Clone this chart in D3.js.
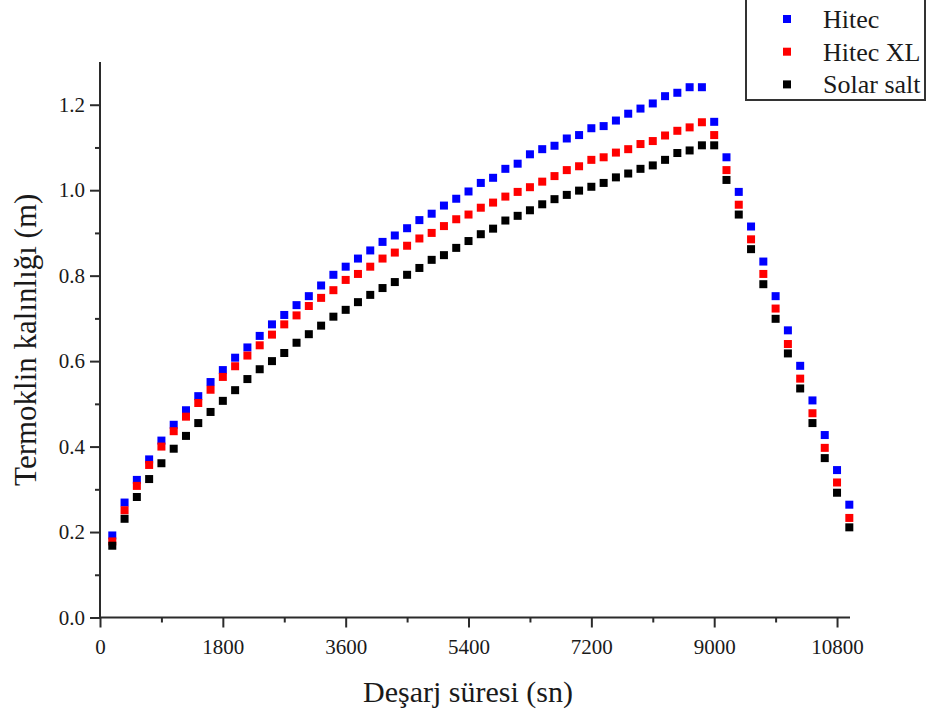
<!DOCTYPE html>
<html>
<head>
<meta charset="utf-8">
<script src="https://cdn.jsdelivr.net/npm/d3@7"></script>
<style>
  html, body { margin: 0; padding: 0; background: #fff; }
  svg { display: block; }
  text { font-family: "Liberation Serif", "Times New Roman", serif; fill: #1a1a1a; }
</style>
</head>
<body>
<svg id="chart" width="931" height="719"></svg>
<script>
// ---- data ----
const times = [180,360,540,720,900,1080,1260,1440,1620,1800,1980,2160,2340,2520,2700,2880,3060,3240,3420,3600,
  3780,3960,4140,4320,4500,4680,4860,5040,5220,5400,5580,5760,5940,6120,6300,6480,6660,6840,7020,7200,
  7380,7560,7740,7920,8100,8280,8460,8640,8820,9000,9180,9360,9540,9720,9900,10080,10260,10440,10620,10800,10980];

const hitec = [0.192,0.269,0.322,0.370,0.414,0.451,0.485,0.518,0.551,0.579,0.608,0.632,0.659,0.686,0.708,0.731,0.752,0.777,0.802,0.821,
  0.840,0.859,0.879,0.894,0.911,0.930,0.945,0.964,0.980,0.997,1.017,1.029,1.050,1.062,1.084,1.096,1.104,1.121,1.129,1.145,
  1.150,1.163,1.179,1.191,1.203,1.220,1.228,1.241,1.241,1.160,1.077,0.996,0.915,0.833,0.752,0.672,0.589,0.508,0.427,0.345,0.264];

const hitecXL = [0.178,0.251,0.308,0.357,0.400,0.436,0.470,0.502,0.533,0.563,0.588,0.613,0.637,0.662,0.686,0.707,0.729,0.748,0.766,0.790,
  0.804,0.821,0.840,0.854,0.870,0.887,0.900,0.916,0.932,0.943,0.959,0.971,0.985,0.996,1.007,1.020,1.033,1.047,1.056,1.071,
  1.077,1.088,1.096,1.108,1.115,1.128,1.139,1.147,1.159,1.129,1.047,0.966,0.885,0.804,0.723,0.640,0.559,0.478,0.397,0.316,0.233];

const solarSalt = [0.168,0.231,0.282,0.324,0.361,0.395,0.425,0.455,0.481,0.507,0.532,0.558,0.581,0.600,0.619,0.643,0.663,0.683,0.704,0.720,
  0.738,0.755,0.771,0.785,0.802,0.818,0.837,0.848,0.865,0.881,0.897,0.910,0.929,0.940,0.953,0.967,0.979,0.989,0.999,1.008,
  1.017,1.030,1.039,1.050,1.058,1.071,1.087,1.093,1.105,1.105,1.024,0.943,0.862,0.780,0.699,0.618,0.536,0.455,0.373,0.292,0.211];

const seriesNames = ["Hitec", "Hitec XL", "Solar salt"];
const seriesColors = ["#0000ff", "#ff0000", "#000000"];
const xTicks = [0, 1800, 3600, 5400, 7200, 9000, 10800];
const xMinorTicks = [900, 2700, 4500, 6300, 8100, 9900];
const yTicks = [0.0, 0.2, 0.4, 0.6, 0.8, 1.0, 1.2];
const yMinorTicks = [0.1, 0.3, 0.5, 0.7, 0.9, 1.1];
const xTitle = "Deşarj süresi (sn)";
const yTitle = "Termoklin kalınlığı (m)";

(function () {
// ---- layout ----
const svg = d3.select("#chart");
const mLeft = 100, mRight = 850, mTop = 62, mBottom = 617.5;
const x = d3.scaleLinear().domain([0, 10990]).range([mLeft, mRight]);
const y = d3.scaleLinear().domain([0, 1.3]).range([mBottom, mTop]);
const axisColor = "#2b2b2b";

// markers
const allSeries = [hitec, hitecXL, solarSalt];
const ms = 8;
allSeries.forEach((vals, si) => {
  svg.append("g").selectAll("rect").data(vals).join("rect")
    .attr("x", (d, i) => x(times[i]) - ms / 2)
    .attr("y", d => y(d) - ms / 2)
    .attr("width", ms).attr("height", ms)
    .attr("fill", seriesColors[si]);
});

// x axis
const gx = svg.append("g").attr("transform", `translate(0,${mBottom})`)
  .call(d3.axisBottom(x).tickValues(xTicks).tickFormat(d3.format("d")).tickSize(10).tickPadding(12));
svg.append("g").attr("transform", `translate(0,${mBottom})`)
  .call(d3.axisBottom(x).tickValues(xMinorTicks).tickFormat("").tickSize(5))
  .call(g => g.select(".domain").remove());
// y axis
const gy = svg.append("g").attr("transform", `translate(${mLeft},0)`)
  .call(d3.axisLeft(y).tickValues(yTicks).tickFormat(d3.format(".1f")).tickSize(10).tickPadding(5));
svg.append("g").attr("transform", `translate(${mLeft},0)`)
  .call(d3.axisLeft(y).tickValues(yMinorTicks).tickFormat("").tickSize(5))
  .call(g => g.select(".domain").remove());

svg.selectAll(".domain").attr("stroke", axisColor).attr("stroke-width", 2);
svg.selectAll(".tick line").attr("stroke", axisColor).attr("stroke-width", 2);
svg.selectAll(".tick text").style("font-family", '"Liberation Serif", serif').style("font-size", "21px").attr("fill", "#1a1a1a");
gx.select(".domain").attr("d", `M${mLeft},0H${mRight}`);
gy.select(".domain").attr("d", `M0,${mBottom}V${mTop}`);

// titles
svg.append("text").attr("x", 468).attr("y", 702).attr("text-anchor", "middle")
  .style("font-size", "30px").text(xTitle);
svg.append("text").attr("transform", `translate(36,${(mTop + mBottom) / 2}) rotate(-90)`)
  .attr("text-anchor", "middle").style("font-size", "31px").text(yTitle);

// legend
const lg = svg.append("g");
lg.append("rect").attr("x", 746).attr("y", -10).attr("width", 179).attr("height", 110)
  .attr("fill", "#fff").attr("stroke", "#333").attr("stroke-width", 2);
seriesNames.forEach((name, i) => {
  const cy = 19 + i * 32.7;
  lg.append("rect").attr("x", 787 - 4).attr("y", cy - 4).attr("width", 8).attr("height", 8)
    .attr("fill", seriesColors[i]);
  lg.append("text").attr("x", 823).attr("y", cy + 9).style("font-size", "26px").text(name);
});
})();
</script>
</body>
</html>
